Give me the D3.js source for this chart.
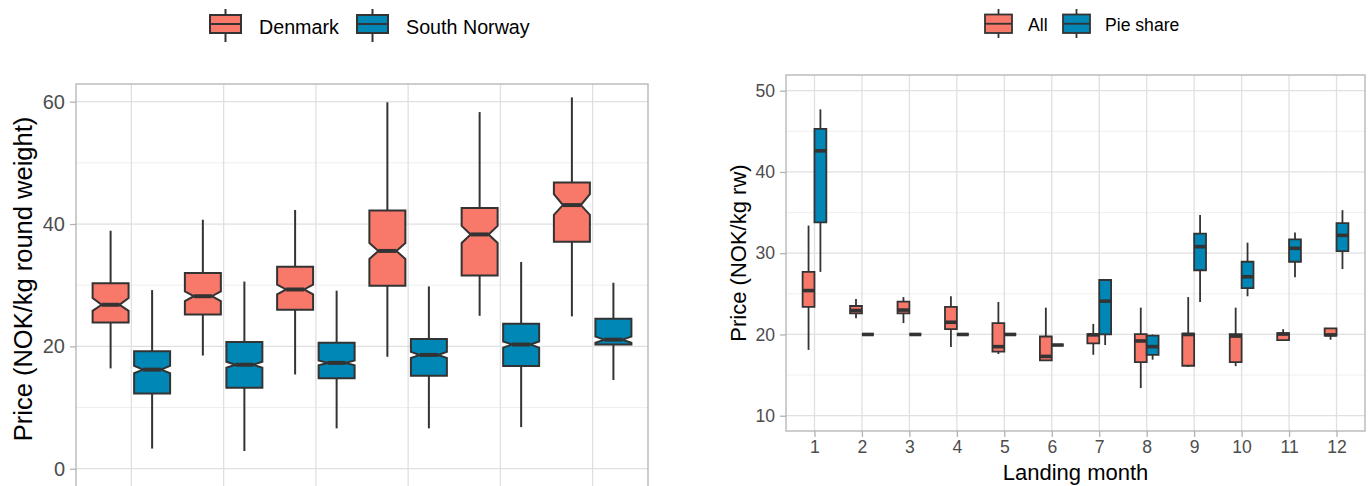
<!DOCTYPE html>
<html>
<head>
<meta charset="utf-8">
<script src="https://cdn.jsdelivr.net/npm/d3@7"></script>
<style>
  html, body { margin: 0; padding: 0; background: #ffffff; }
  svg { display: block; font-family: "Liberation Sans", Arial, sans-serif; }
</style>
</head>
<body>
<svg id="chart" width="1372" height="486"></svg>
<script>
// ---------------- DATA ----------------
// Left panel: six groups (x labels not visible in the picture)
const leftGroups = ["1", "2", "3", "4", "5", "6"];
const leftSeries = ["Denmark", "South Norway"];
// [lowerWhisker, q1, median, q3, upperWhisker, notchLow, notchHigh]
const denmarkStats = [
  [16.4, 23.9, 26.8, 30.3, 38.9, 25.8, 27.9],
  [18.5, 25.2, 28.2, 32.0, 40.7, 27.4, 29.0],
  [15.4, 26.0, 29.3, 33.0, 42.3, 28.5, 30.1],
  [18.3, 29.9, 35.6, 42.2, 59.9, 34.3, 36.9],
  [25.0, 31.6, 38.3, 42.6, 58.3, 36.9, 39.7],
  [24.9, 37.1, 43.1, 46.8, 60.7, 41.5, 44.9]
];
const southNorwayStats = [
  [3.3, 12.3, 16.2, 19.2, 29.2, 15.6, 16.8],
  [2.9, 13.25, 17.0, 20.7, 30.6, 16.5, 17.5],
  [6.6, 14.8, 17.3, 20.6, 29.1, 16.9, 17.7],
  [6.6, 15.2, 18.6, 21.2, 29.8, 18.1, 19.1],
  [6.8, 16.8, 20.3, 23.7, 33.8, 19.8, 20.8],
  [14.5, 20.3, 21.1, 24.5, 30.4, 20.6, 21.6]
];
const leftYTicks = [0, 20, 40, 60];
const leftYMinor = [10, 30, 50];
const leftYTitle = "Price (NOK/kg round weight)";

// Right panel: landing months
const months = ["1", "2", "3", "4", "5", "6", "7", "8", "9", "10", "11", "12"];
const rightSeries = ["All", "Pie share"];
// [lowerWhisker, q1, median, q3, upperWhisker]
const allStats = [
  [18.1, 23.4, 25.4, 27.7, 33.4],
  [22.0, 22.6, 22.95, 23.5, 24.35],
  [21.4, 22.6, 23.0, 24.05, 24.6],
  [18.45, 20.65, 21.5, 23.4, 24.7],
  [17.6, 17.9, 18.5, 21.4, 24.0],
  [16.8, 16.8, 17.3, 19.75, 23.3],
  [17.5, 18.9, 19.95, 20.05, 21.3],
  [13.4, 16.6, 19.2, 20.05, 23.3],
  [16.0, 16.15, 20.0, 20.1, 24.6],
  [16.1, 16.6, 19.8, 20.05, 23.3],
  [19.3, 19.3, 20.05, 20.15, 20.65],
  [19.35, 19.85, 19.95, 20.75, 20.75]
];
const pieStats = [
  [27.7, 33.8, 42.6, 45.3, 47.7],
  [20.0, 20.0, 20.0, 20.0, 20.0],
  [20.0, 20.0, 20.0, 20.0, 20.0],
  [20.0, 20.0, 20.0, 20.0, 20.0],
  [20.0, 20.0, 20.0, 20.0, 20.0],
  [18.7, 18.7, 18.7, 18.7, 18.7],
  [18.7, 20.0, 24.1, 26.7, 26.7],
  [16.9, 17.5, 18.5, 19.85, 20.0],
  [24.0, 27.9, 30.8, 32.4, 34.7],
  [24.7, 25.7, 27.1, 28.95, 31.3],
  [27.05, 28.95, 30.6, 31.7, 32.55],
  [28.05, 30.25, 32.2, 33.7, 35.3]
];
const rightYTicks = [10, 20, 30, 40, 50];
const rightYMinor = [15, 25, 35, 45];
const rightYTitle = "Price (NOK/kg rw)";
const rightXTitle = "Landing month";

// ---------------- STYLE ----------------
const colors = { a: "#F8786A", b: "#0087B5" };
const outline = "#333333";
const gridMajor = "#e0e0e0";
const gridMinor = "#efefef";
const frame = "#b3b3b3";
const tickText = "#4d4d4d";

const svg = d3.select("#chart");

function drawPanel(cfg) {
  const g = svg.append("g");
  const x = d3.scalePoint().domain(cfg.cats).range([cfg.left, cfg.right]).padding(0.6);
  const y = d3.scaleLinear().domain(cfg.yDomain).range([cfg.bottom, cfg.top]);
  const step = x.step();

  const clipId = "clip" + cfg.id;
  svg.append("clipPath").attr("id", clipId).append("rect")
    .attr("x", cfg.left).attr("y", cfg.top)
    .attr("width", cfg.right - cfg.left).attr("height", cfg.bottom - cfg.top);

  const pg = g.append("g").attr("clip-path", `url(#${clipId})`);
  // minor grid
  pg.selectAll("line.ymin").data(cfg.yMinor).join("line")
    .attr("x1", cfg.left).attr("x2", cfg.right)
    .attr("y1", d => y(d)).attr("y2", d => y(d))
    .attr("stroke", gridMinor).attr("stroke-width", 1);
  // major grid
  pg.selectAll("line.ymaj").data(cfg.yTicks).join("line")
    .attr("x1", cfg.left).attr("x2", cfg.right)
    .attr("y1", d => y(d)).attr("y2", d => y(d))
    .attr("stroke", gridMajor).attr("stroke-width", 1.3);
  pg.selectAll("line.xmaj").data(cfg.cats).join("line")
    .attr("x1", d => x(d)).attr("x2", d => x(d))
    .attr("y1", cfg.top).attr("y2", cfg.bottom)
    .attr("stroke", gridMajor).attr("stroke-width", 1.3);

  // boxes
  cfg.series.forEach((s, si) => {
    const off = (si === 0 ? -1 : 1) * cfg.dodge * step;
    const w = cfg.boxW * step;
    const col = si === 0 ? colors.a : colors.b;
    s.forEach((st, i) => {
      const cx = x(cfg.cats[i]) + off;
      const [lo, q1, med, q3, hi] = st;
      const bg = pg.append("g");
      bg.append("line").attr("x1", cx).attr("x2", cx).attr("y1", y(q3)).attr("y2", y(hi))
        .attr("stroke", outline).attr("stroke-width", cfg.lw);
      bg.append("line").attr("x1", cx).attr("x2", cx).attr("y1", y(q1)).attr("y2", y(lo))
        .attr("stroke", outline).attr("stroke-width", cfg.lw);
      const x0 = cx - w / 2, x1 = cx + w / 2;
      let d, mx0 = x0, mx1 = x1;
      if (cfg.notch) {
        const nl = st[5], nh = st[6], ind = w / 4;
        mx0 = x0 + ind; mx1 = x1 - ind;
        d = `M${x0},${y(q3)}L${x1},${y(q3)}L${x1},${y(nh)}L${mx1},${y(med)}L${x1},${y(nl)}` +
            `L${x1},${y(q1)}L${x0},${y(q1)}L${x0},${y(nl)}L${mx0},${y(med)}L${x0},${y(nh)}Z`;
      } else {
        d = `M${x0},${y(q3)}L${x1},${y(q3)}L${x1},${y(q1)}L${x0},${y(q1)}Z`;
      }
      bg.append("path").attr("d", d).attr("fill", col)
        .attr("stroke", outline).attr("stroke-width", cfg.lw).attr("stroke-linejoin", "miter");
      bg.append("line").attr("x1", mx0).attr("x2", mx1).attr("y1", y(med)).attr("y2", y(med))
        .attr("stroke", outline).attr("stroke-width", cfg.lw * 2);
    });
  });

  // frame
  g.append("rect").attr("x", cfg.left).attr("y", cfg.top)
    .attr("width", cfg.right - cfg.left).attr("height", cfg.bottom - cfg.top)
    .attr("fill", "none").attr("stroke", frame).attr("stroke-width", 1.3);

  // y axis
  const ya = g.append("g").attr("transform", `translate(${cfg.left},0)`)
    .call(d3.axisLeft(y).tickValues(cfg.yTicks).tickSize(6).tickPadding(5));
  ya.select(".domain").remove();
  ya.selectAll(".tick line").attr("stroke", frame).attr("stroke-width", 1.3);
  ya.selectAll(".tick text").attr("fill", tickText).attr("font-size", cfg.tickFont)
    .attr("font-family", "Liberation Sans, Arial, sans-serif");

  if (cfg.showX) {
    const xa = g.append("g").attr("transform", `translate(0,${cfg.bottom})`)
      .call(d3.axisBottom(x).tickSize(6).tickPadding(4));
    xa.select(".domain").remove();
    xa.selectAll(".tick line").attr("stroke", frame).attr("stroke-width", 1.3);
    xa.selectAll(".tick text").attr("fill", tickText).attr("font-size", cfg.tickFont)
      .attr("font-family", "Liberation Sans, Arial, sans-serif");
    g.append("text").attr("x", (cfg.left + cfg.right) / 2).attr("y", cfg.xTitleY)
      .attr("text-anchor", "middle").attr("font-size", cfg.titleFont).attr("fill", "#000")
      .text(cfg.xTitle);
  }

  g.append("text")
    .attr("transform", `translate(${cfg.yTitleX},${cfg.yTitleY}) rotate(-90)`)
    .attr("text-anchor", "middle").attr("font-size", cfg.titleFont).attr("fill", "#000")
    .text(cfg.yTitle);

  // legend
  const lg = g.append("g");
  cfg.legend.forEach((it, i) => {
    const k = it.key;
    const col = i === 0 ? colors.a : colors.b;
    const cx = k.x + k.w / 2;
    lg.append("line").attr("x1", cx).attr("x2", cx).attr("y1", k.wy0).attr("y2", k.wy1)
      .attr("stroke", outline).attr("stroke-width", cfg.lw);
    lg.append("rect").attr("x", k.x).attr("y", k.y).attr("width", k.w).attr("height", k.h)
      .attr("fill", col).attr("stroke", outline).attr("stroke-width", cfg.lw);
    lg.append("line").attr("x1", k.x).attr("x2", k.x + k.w)
      .attr("y1", k.y + k.h / 2).attr("y2", k.y + k.h / 2)
      .attr("stroke", outline).attr("stroke-width", cfg.lw);
    lg.append("text").attr("x", it.tx).attr("y", it.ty).attr("font-size", cfg.legendFont)
      .attr("fill", "#000").text(it.label);
  });
}

drawPanel({
  id: "L", cats: leftGroups, series: [denmarkStats, southNorwayStats], notch: true,
  left: 76, right: 648, top: 84, bottom: 505, yDomain: [-5.93, 62.89],
  yTicks: leftYTicks, yMinor: leftYMinor, dodge: 0.225, boxW: 0.39, lw: 2,
  tickFont: 20, titleFont: 25.5, legendFont: 19.7, showX: false,
  yTitle: leftYTitle, yTitleX: 32, yTitleY: 279,
  legend: [
    { label: leftSeries[0], key: { x: 210, y: 15, w: 31, h: 18, wy0: 9, wy1: 42 }, tx: 259, ty: 34 },
    { label: leftSeries[1], key: { x: 357, y: 15, w: 31, h: 18, wy0: 9, wy1: 42 }, tx: 406, ty: 34 }
  ]
});

drawPanel({
  id: "R", cats: months, series: [allStats, pieStats], notch: false,
  left: 786, right: 1365, top: 75, bottom: 431, yDomain: [8.12, 51.93],
  yTicks: rightYTicks, yMinor: rightYMinor, dodge: 0.125, boxW: 0.25, lw: 1.8,
  tickFont: 17.6, titleFont: 22, legendFont: 17.6, showX: true,
  xTitle: rightXTitle, xTitleY: 480,
  yTitle: rightYTitle, yTitleX: 746, yTitleY: 253,
  legend: [
    { label: rightSeries[0], key: { x: 985, y: 14.5, w: 27, h: 18.5, wy0: 9, wy1: 38 }, tx: 1028, ty: 30.5 },
    { label: rightSeries[1], key: { x: 1063, y: 14.5, w: 27, h: 18.5, wy0: 9, wy1: 38 }, tx: 1105, ty: 30.5 }
  ]
});
</script>
</body>
</html>
